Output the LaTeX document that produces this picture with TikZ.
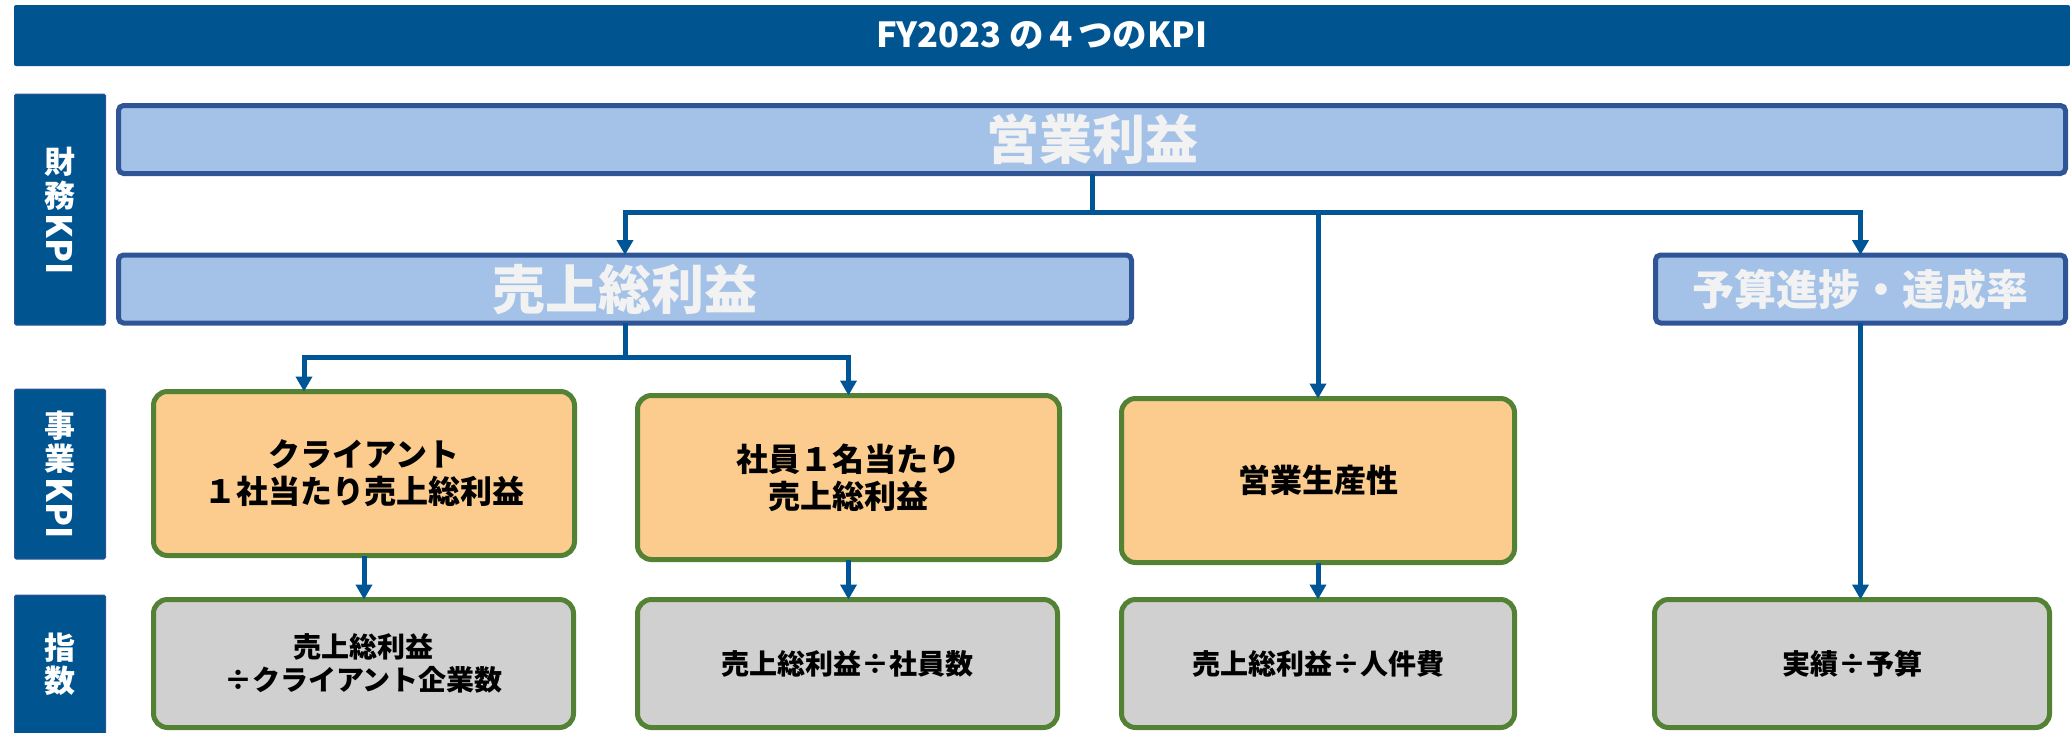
\documentclass[tikz,border=0pt]{standalone}
\usepackage{fontspec}
\setmainfont{Noto Sans CJK JP}
\usetikzlibrary{arrows.meta}
\definecolor{navy}{RGB}{0,85,145}
\definecolor{lblue}{RGB}{164,194,232}
\definecolor{bborder}{RGB}{47,85,151}
\definecolor{ltext}{RGB}{242,242,242}
\definecolor{orng}{RGB}{251,204,142}
\definecolor{grn}{RGB}{84,130,53}
\definecolor{gry}{RGB}{208,208,208}
\definecolor{conncol}{RGB}{0,85,150}
\begin{document}
\begin{tikzpicture}[x=1pt,y=-1pt,
  box/.style={rectangle, inner sep=0pt, outer sep=0pt, align=center},
  header/.style={box, fill=navy, text=white},
  side/.style={box, fill=navy, draw=bborder, line width=1pt, rounded corners=1.5pt, minimum width=91pt},
  fin/.style={box, fill=lblue, draw=bborder, line width=5pt, rounded corners=5pt, text=ltext, minimum height=68pt},
  biz/.style={box, fill=orng, draw=grn, line width=5pt, rounded corners=14pt, minimum height=164pt,
    font=\bfseries\fontsize{32}{37}\selectfont},
  idx/.style={box, fill=gry, draw=grn, line width=5pt, rounded corners=14pt, minimum height=128pt,
    font=\bfseries\fontsize{28}{33}\selectfont},
  sidetxt/.style={inner sep=0pt, text=white, font=\bfseries\fontsize{31}{32}\selectfont},
  sidekpi/.style={inner sep=0pt, text=white, rotate=-90, font=\bfseries\fontsize{35}{36}\selectfont},
  conn/.style={draw=conncol, line width=5pt, -{Triangle[width=16pt,length=15pt]}},
  trunk/.style={draw=conncol, line width=5pt},
]
\useasboundingbox (0,0) rectangle (2070,732);

% header
\node[header, minimum width=2056pt, minimum height=61pt, rounded corners=2pt,
  font=\bfseries\fontsize{34.5}{38}\selectfont] (title) at (1042,35.5) {FY2023 の４つのKPI};

% side labels
\node[side, minimum height=231pt] (s1) at (60,209.5) {};
\node[sidetxt] (s1a) at (60,162) {財};
\node[sidetxt] (s1b) at (60,196) {務};
\node[sidekpi] (s1c) at (60,244) {KPI};

\node[side, minimum height=170pt] (s2) at (60,474) {};
\node[sidetxt] (s2a) at (60,426) {事};
\node[sidetxt] (s2b) at (60,459) {業};
\node[sidekpi] (s2c) at (60,508) {KPI};

\node[side, minimum height=145pt] (s3) at (60,667.5) {};
\node[sidetxt] (s3a) at (60,648) {指};
\node[sidetxt] (s3b) at (60,681) {数};

% financial KPI boxes
\node[fin, minimum width=1947pt, font=\bfseries\fontsize{53}{56}\selectfont] (op) at (1092,139.5) {営業利益};
\node[fin, minimum width=1013pt, font=\bfseries\fontsize{53}{56}\selectfont] (gp) at (625,289) {売上総利益};
\node[fin, minimum width=410pt, font=\bfseries\fontsize{42}{46}\selectfont] (bud) at (1860.5,289) {予算進捗・達成率};

% business KPI boxes
\node[biz, minimum width=421pt] (k1) at (364,473.5) {クライアント\\１社当たり売上総利益};
\node[biz, minimum width=422pt] (k2) at (848.5,477.5) {社員１名当たり\\売上総利益};
\node[biz, minimum width=393pt] (k3) at (1318,480.5) {営業生産性};

% index boxes
\node[idx, minimum width=420pt] (i1) at (363.5,663.5) {売上総利益\\÷クライアント企業数};
\node[idx, minimum width=420pt] (i2) at (847.5,663.5) {売上総利益÷社員数};
\node[idx, minimum width=393pt] (i3) at (1318,663.5) {売上総利益÷人件費};
\node[idx, minimum width=395pt] (i4) at (1852,663.5) {実績÷予算};

% connectors
\coordinate (j1) at (1092,212);
\coordinate (j2) at (625,357);
\draw[trunk] (op.south) -- (j1);
\draw[conn] (j1) -| (gp.north);
\draw[conn] (j1) -| (bud.north);
\draw[conn] (j1 -| k3.north) -- (k3.north);
\draw[trunk] (gp.south) -- (j2);
\draw[conn] (j2) -| ([xshift=-60pt]k1.north);
\draw[conn] (j2) -| (k2.north);
\draw[conn] (k1.south) -- (k1.south |- i1.north);
\draw[conn] (k2.south) -- (k2.south |- i2.north);
\draw[conn] (k3.south) -- (k3.south |- i3.north);
\draw[conn] (bud.south) -- (bud.south |- i4.north);
\end{tikzpicture}
\end{document}
